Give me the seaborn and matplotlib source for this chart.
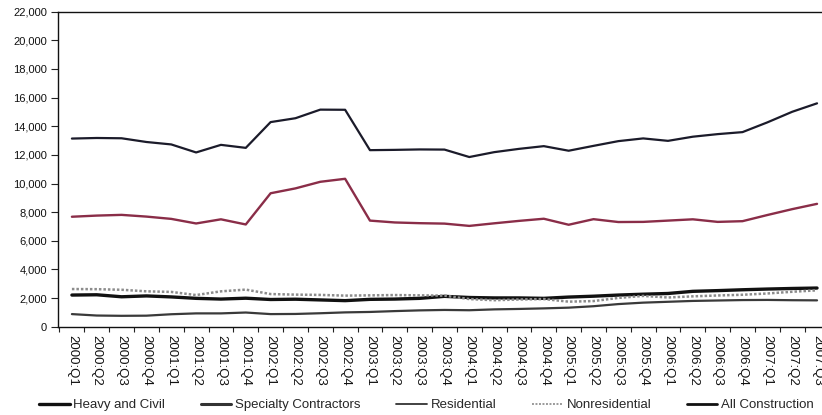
import numpy as np
import pandas as pd
import matplotlib
matplotlib.use("Agg")
import matplotlib.pyplot as plt
from matplotlib.lines import Line2D
from matplotlib.ticker import FuncFormatter, FixedLocator
import seaborn as sns

quarters = [f"{y}:Q{q}" for y in range(2000, 2008) for q in range(1, 5)][:31]

heavy_civil = [2210, 2230, 2090, 2150, 2080, 1980, 1930, 1990, 1900, 1920, 1870,
               1820, 1910, 1930, 1980, 2120, 2040, 2010, 2010, 1980, 2070, 2130,
               2210, 2270, 2320, 2470, 2520, 2580, 2630, 2670, 2700]
specialty = [7680, 7760, 7810, 7690, 7530, 7210, 7500, 7140, 9320, 9660, 10120,
             10330, 7410, 7280, 7230, 7200, 7040, 7220, 7390, 7540, 7120, 7510,
             7310, 7320, 7410, 7500, 7320, 7370, 7800, 8210, 8580]
residential = [880, 780, 760, 770, 870, 930, 930, 990, 880, 890, 940, 1000,
               1030, 1090, 1140, 1170, 1150, 1210, 1240, 1280, 1330, 1430, 1580,
               1680, 1740, 1800, 1830, 1860, 1870, 1850, 1840]
nonresidential = [2630, 2620, 2580, 2470, 2430, 2210, 2470, 2590, 2280, 2240,
                  2220, 2170, 2190, 2210, 2190, 2170, 1930, 1850, 1900, 1930,
                  1750, 1790, 2010, 2150, 2040, 2120, 2180, 2230, 2320, 2440, 2540]
all_construction = [13140, 13180, 13160, 12900, 12730, 12170, 12700, 12490,
                    14290, 14560, 15160, 15150, 12330, 12350, 12380, 12370,
                    11850, 12190, 12420, 12610, 12290, 12630, 12960, 13150,
                    12980, 13270, 13450, 13590, 14270, 15010, 15600]

y_ticks = list(range(0, 22001, 2000))

sns.set_style("white")
plt.rcParams["font.family"] = ["Liberation Sans", "DejaVu Sans"]

fig = plt.figure(figsize=(8.22, 4.15), dpi=100)
ax = fig.add_axes([58 / 822, 1 - 326.7 / 415, 1 - 58 / 822, (326.7 - 11.7) / 415])

x = np.arange(len(quarters))

series = [
    ("Heavy and Civil", heavy_civil, dict(color="#111111", lw=2.4, ls="-")),
    ("Specialty Contractors", specialty, dict(color="#8a2d48", lw=1.7, ls="-")),
    ("Residential", residential, dict(color="#3a3a3a", lw=1.6, ls="-")),
    ("Nonresidential", nonresidential, dict(color="#8c8c8c", lw=1.8, ls=(0, (1, 0.8)))),
    ("All Construction", all_construction, dict(color="#1b1b2a", lw=1.6, ls="-")),
]

for name, vals, st in series:
    sns.lineplot(x=x, y=vals, ax=ax, color=st["color"], linewidth=st["lw"],
                 linestyle=st["ls"], legend=False)

ax.set_xlim(-0.56, 30.2)
ax.set_ylim(0, 22000)
ax.set_yticks(y_ticks)
ax.yaxis.set_major_formatter(FuncFormatter(lambda v, p: f"{int(v):,}"))
ax.tick_params(axis="y", which="major", direction="out", length=5, width=0.8,
               color="#222222", pad=3, labelsize=8, labelcolor="#111111", left=True)

ax.set_xticks(x)
ax.set_xticklabels(quarters, rotation=270, fontsize=9.5, color="#111111")
ax.tick_params(axis="x", which="major", length=0, pad=6)
ax.xaxis.set_minor_locator(FixedLocator(np.arange(-0.5, 31, 1.0)))
ax.tick_params(axis="x", which="minor", direction="out", length=3.5, width=0.8,
               color="#222222", bottom=True)
ax.set_xlabel("")
ax.set_ylabel("")

for side in ["left", "bottom", "top"]:
    ax.spines[side].set_visible(True)
    ax.spines[side].set_color("#111111")
    ax.spines[side].set_linewidth(1.0)
ax.spines["right"].set_visible(False)
ax.grid(False)

handles = [
    Line2D([], [], color="#111111", lw=2.4),
    Line2D([], [], color="#333333", lw=2.2),
    Line2D([], [], color="#333333", lw=1.3),
    Line2D([], [], color="#9a9a9a", lw=1.4, ls=(0, (1, 0.8))),
    Line2D([], [], color="#111111", lw=2.0),
]
labels = [s[0] for s in series]
fig.legend(handles, labels, loc="center", bbox_to_anchor=(426.5 / 822, 1 - 405 / 415),
           ncol=5, frameon=False, fontsize=9.5, handlelength=2.3, handletextpad=0.3,
           columnspacing=2.7, borderpad=0.1)

fig.savefig("out.png", dpi=100)
